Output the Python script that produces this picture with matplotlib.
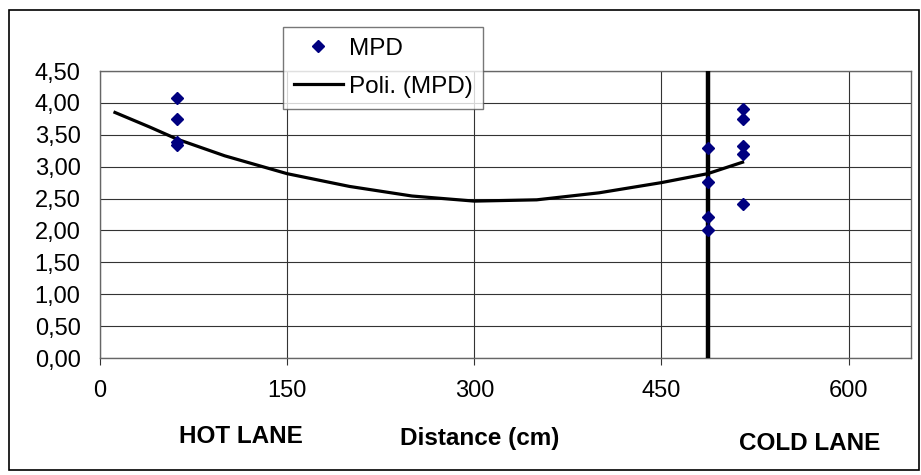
import numpy as np
import matplotlib
matplotlib.use('Agg')
import matplotlib.pyplot as plt
from matplotlib.patches import Rectangle
from matplotlib.ticker import MultipleLocator, FuncFormatter

# MPD measurements (distance in cm, MPD value)
hot_x = [62, 62, 62, 62]
hot_y = [4.08, 3.75, 3.38, 3.34]
cold1_x = [487, 487, 487, 487]
cold1_y = [3.30, 2.76, 2.21, 2.00]
cold2_x = [515, 515, 515, 515, 515]
cold2_y = [3.91, 3.74, 3.33, 3.20, 2.42]

# polynomial trendline
trend_x = [12, 40, 62, 100, 150, 200, 250, 300, 350, 400, 450, 487, 515]
trend_y = [3.85, 3.62, 3.43, 3.17, 2.89, 2.69, 2.54, 2.46, 2.48, 2.59, 2.75, 2.89, 3.07]

# separation line between lanes
sep_x = 487
sep_y = [0, 4.5]

plt.rc('font', family=['Liberation Sans', 'DejaVu Sans'], size=17)

fig = plt.figure(figsize=(9.21, 4.75), dpi=100)
ax = fig.add_axes([100 / 921, 117 / 475, 811 / 921, 287 / 475])

mpd_x = hot_x + cold1_x + cold2_x
mpd_y = hot_y + cold1_y + cold2_y

ax.grid(True, color='#333333', linewidth=0.8)
ax.set_axisbelow(True)

ax.plot([sep_x, sep_x], sep_y, color='k', linewidth=3.2, solid_capstyle='round', zorder=3)
l2, = ax.plot(trend_x, trend_y, color='k', linewidth=2.3, zorder=4)
l1, = ax.plot(mpd_x, mpd_y, linestyle='none', marker='D', markersize=6,
              color='#000080', zorder=5)

ax.set_xlim(0, 650)
ax.set_ylim(0, 4.5)
ax.xaxis.set_major_locator(MultipleLocator(150))
ax.yaxis.set_major_locator(MultipleLocator(0.5))
ax.yaxis.set_major_formatter(FuncFormatter(lambda v, p: ('%.2f' % v).replace('.', ',')))
ax.tick_params(axis='x', direction='out', length=5, width=0.8, color='#333333', pad=11)
ax.tick_params(axis='y', length=0, pad=14)
for s in ax.spines.values():
    s.set_color('#666666')
    s.set_linewidth(1)

# labels under the axis
fig.text(241 / 921, 1 - 443 / 475, 'HOT LANE', ha='center', va='baseline',
         fontsize=17.5, fontweight='bold')
fig.text(480 / 921, 1 - 445 / 475, 'Distance (cm)', ha='center', va='baseline',
         fontsize=17.5, fontweight='bold')
fig.text(810 / 921, 1 - 450 / 475, 'COLD LANE', ha='center', va='baseline',
         fontsize=17.5, fontweight='bold')

leg = fig.legend(handles=[l1, l2], labels=['MPD', 'Poli. (MPD)'],
                 loc='upper left', bbox_to_anchor=(283 / 921, 1 - 27 / 475),
                 frameon=True, fancybox=False, edgecolor='#555555', fontsize=17.5,
                 handlelength=2.0, handletextpad=0.25, borderpad=0.45,
                 labelspacing=0.65, borderaxespad=0)
leg.get_frame().set_linewidth(1)

# outer chart border
fig.patches.append(Rectangle((9 / 921, 5 / 475), 910 / 921, 460 / 475,
                             transform=fig.transFigure, fill=False,
                             edgecolor='k', linewidth=1.2))

plt.savefig('out.png', dpi=100)
